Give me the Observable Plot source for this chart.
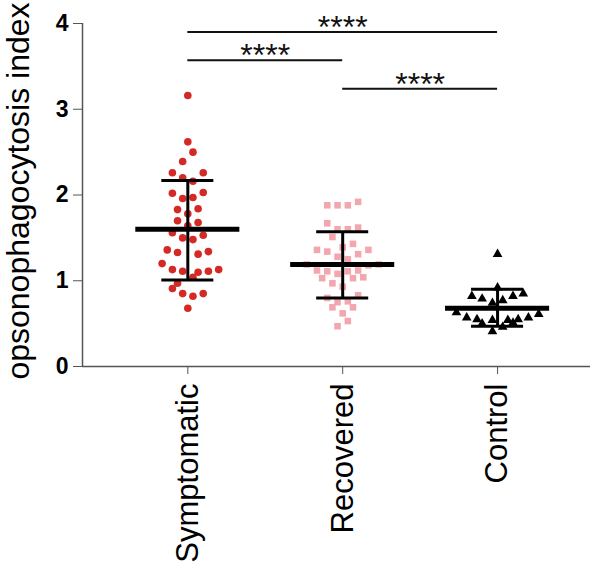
<!DOCTYPE html>
<html>
<head>
<meta charset="utf-8">
<script src="https://cdn.jsdelivr.net/npm/d3@7"></script>
<script src="https://cdn.jsdelivr.net/npm/@observablehq/plot@0.6"></script>
<style>
  body { margin: 0; background: #fff; }
  #chart svg { display: block; }
</style>
</head>
<body>
<div id="chart"></div>
<script>
// Categories
const groups = ["Symptomatic", "Recovered", "Control"];

// Individual values and their scatter column (jitter slot) in each group
const symptomaticValues = [3.16,2.62,2.50,2.39,2.26,2.26,2.20,2.16,2.02,2.03,1.96,1.97,1.83,1.84,1.78,1.70,1.68,1.64,1.56,1.50,1.48,1.53,1.36,1.33,1.31,1.34,1.20,1.13,1.11,1.10,1.11,1.13,1.04,0.97,0.91,0.85,0.82,0.85,0.68];
const symptomaticCols   = [0,0,1,-1,-3,3,-1,1,-3,3,-1,1,-2,2,0,-2,2,0,-3,-1,1,3,-4,-2,2,4,-5,-3,-1,2,4,6,1,-2,-3,-1,1,3,0];

const recoveredValues = [1.88,1.88,1.88,1.92,1.67,1.60,1.60,1.62,1.51,1.43,1.36,1.34,1.39,1.36,1.28,1.31,1.25,1.19,1.18,1.19,1.12,1.11,1.08,1.11,1.12,1.03,1.03,1.04,0.97,0.93,0.80,0.83,0.75,0.76,0.69,0.69,0.62,0.53,0.47];
const recoveredCols   = [-3,-1,1,3,-3,-1,1,3,-2,2,-5,-3,0,5,-1,3,1,-7,5,7,-5,-3,-1,1,3,-4,2,4,-2,0,-3,3,-1,1,-2,2,0,1,-1];

const controlValues = [1.31,0.92,0.82,0.79,0.82,0.85,0.77,0.74,0.63,0.57,0.55,0.50,0.54,0.54,0.51,0.55,0.57,0.61,0.41,0.46];
const controlCols   = [0,0,-5,-3,3,5,1,-1,-8,-6,-4,-3,-1,2,3,4,6,8,-1,1];

// Summary: mean and SD bounds
const means  = [1.60, 1.19, 0.68];
const sdLow  = [1.01, 0.80, 0.47];
const sdHigh = [2.17, 1.57, 0.90];

// Significance comparisons
const compFrom  = [0, 0, 1];
const compTo    = [2, 1, 2];
const compY     = [3.90, 3.57, 3.24];
const compLabel = ["****", "****", "****"];

// Axis ticks
const yTicks = [0, 1, 2, 3, 4];
const yTitle = "opsonophagocytosis index";

// ---- build tables ----
const colStep = 0.0332;     // width of one scatter column, in category units
const meanHalf = 0.336;     // half width of the mean bar
const capHalf = 0.168;      // half width of the SD caps
const xLeft = -0.68;        // left edge of the x domain (y-axis line)

function pts(values, cols, g) {
  return values.map((v, i) => ({group: groups[g], value: v, xpos: g + cols[i] * colStep}));
}
const symPts = pts(symptomaticValues, symptomaticCols, 0);
const recPts = pts(recoveredValues, recoveredCols, 1);
const conPts = pts(controlValues, controlCols, 2);
const gIdx = groups.map((_, i) => i);
const cIdx = compFrom.map((_, i) => i);

const chart = Plot.plot({
  width: 600,
  height: 575,
  marginLeft: 82,
  marginRight: 10,
  marginTop: 23,
  marginBottom: 209,
  x: {domain: [xLeft, 2.6]},
  y: {domain: [0, 4]},
  style: {fontFamily: "'Liberation Sans', Arial, Helvetica, sans-serif", background: "white", color: "black"},
  marks: [
    Plot.ruleY([0], {stroke: "#555", strokeWidth: 1.5}),
    Plot.ruleX([xLeft], {stroke: "#555", strokeWidth: 1.5}),
    Plot.axisY({ticks: yTicks, tickFormat: d => String(d), tickSize: 9, tickPadding: 5, fontSize: 23, fontWeight: "bold", stroke: "#555", fill: "black", label: null}),
    Plot.axisX({ticks: gIdx, tickFormat: i => groups[i], tickRotate: -90, tickSize: 8, tickPadding: 9, fontSize: 31, stroke: "#555", fill: "black", label: null}),
    Plot.text([yTitle], {frameAnchor: "left", textAnchor: "middle", rotate: -90, dx: -54, dy: -4, lineAnchor: "bottom", fontSize: 32, fill: "black"}),
    Plot.dot(symPts, {x: "xpos", y: "value", symbol: "circle", fill: "#d42a26", r: 3.8}),
    Plot.dot(recPts, {x: "xpos", y: "value", symbol: "square", fill: "#f3a6ae", r: 3.7}),
    Plot.dot(conPts, {x: "xpos", y: "value", symbol: "triangle", fill: "black", r: 3.6}),
    Plot.ruleX(gIdx, {x: i => i, y1: i => sdLow[i], y2: i => sdHigh[i], stroke: "black", strokeWidth: 3}),
    Plot.ruleY(gIdx, {y: i => sdLow[i], x1: i => i - capHalf, x2: i => i + capHalf, stroke: "black", strokeWidth: 3}),
    Plot.ruleY(gIdx, {y: i => sdHigh[i], x1: i => i - capHalf, x2: i => i + capHalf, stroke: "black", strokeWidth: 3}),
    Plot.ruleY(gIdx, {y: i => means[i], x1: i => i - meanHalf, x2: i => i + meanHalf, stroke: "black", strokeWidth: 5}),
    Plot.ruleY(cIdx, {y: i => compY[i], x1: i => compFrom[i], x2: i => compTo[i], stroke: "#111", strokeWidth: 2}),
    Plot.text(cIdx, {x: i => (compFrom[i] + compTo[i]) / 2, y: i => compY[i], text: i => compLabel[i], fontSize: 32, lineAnchor: "bottom", dy: 6, fill: "#111"})
  ]
});
document.getElementById("chart").appendChild(chart);
</script>
</body>
</html>
